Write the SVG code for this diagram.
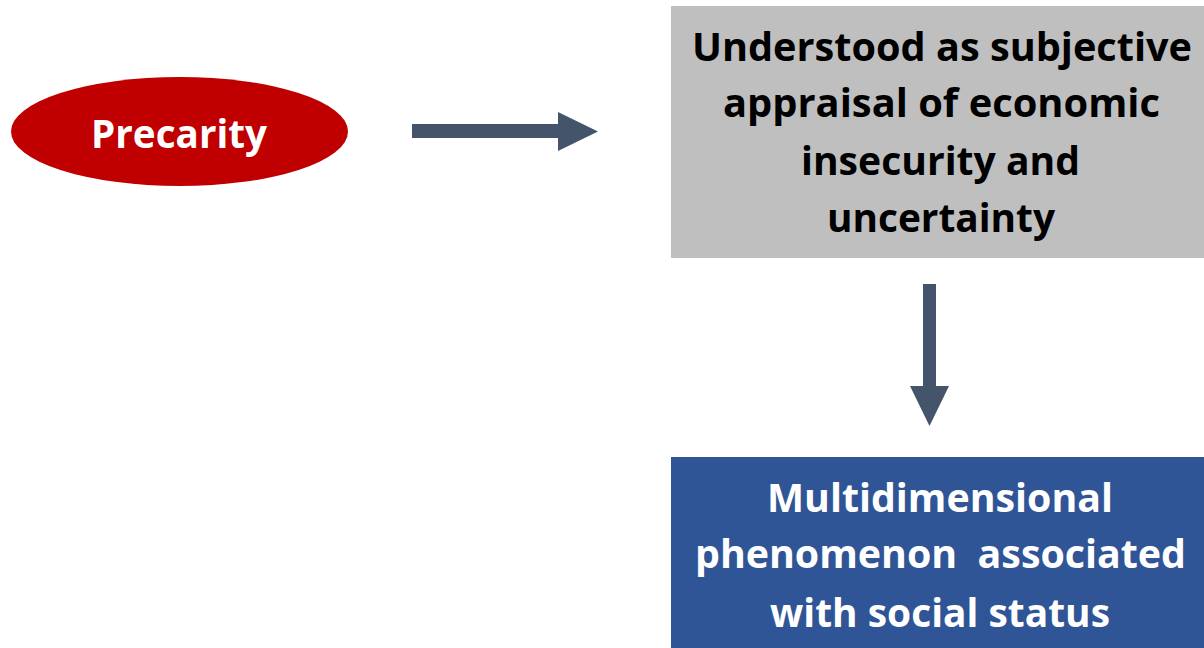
<svg xmlns="http://www.w3.org/2000/svg" width="1204" height="648" viewBox="0 0 1204 648">
<defs>
<style>
.t{font-family:"Open Sans","Liberation Sans",sans-serif;font-weight:bold;font-size:39px;text-anchor:middle}
.w{fill:#FFFFFF}
.k{fill:#000000}
.arrow{fill:#44546A}
</style>
</defs>
<rect x="0" y="0" width="1204" height="648" fill="#FFFFFF"/>
<g id="precarity">
<ellipse cx="179.5" cy="131.5" rx="168.5" ry="54.5" fill="#C00000"/>
<text class="t w" x="179" y="148" textLength="176" lengthAdjust="spacingAndGlyphs">Precarity</text>
</g>
<g id="understood">
<rect x="671" y="6" width="533" height="252" fill="#BFBFBF"/>
<text class="t k" x="942" y="61" textLength="500" lengthAdjust="spacingAndGlyphs">Understood as subjective</text>
<text class="t k" x="941.5" y="117" textLength="437" lengthAdjust="spacingAndGlyphs">appraisal of economic</text>
<text class="t k" x="940.5" y="175" textLength="279" lengthAdjust="spacingAndGlyphs">insecurity and</text>
<text class="t k" x="941" y="232" textLength="228" lengthAdjust="spacingAndGlyphs">uncertainty</text>
</g>
<g id="multidimensional">
<rect x="671" y="457" width="533" height="191" fill="#2F5597"/>
<text class="t w" x="940" y="512" textLength="346" lengthAdjust="spacingAndGlyphs">Multidimensional</text>
<text class="t w" x="940.5" y="568" textLength="491" lengthAdjust="spacingAndGlyphs" xml:space="preserve">phenomenon  associated</text>
<text class="t w" x="940" y="627" textLength="340" lengthAdjust="spacingAndGlyphs">with social status</text>
</g>
<g id="connectors">
<polygon class="arrow" points="412,124 558,124 558,112 598,131.5 558,151 558,138 412,138"/>
<polygon class="arrow" points="923,284 936,284 936,386 949,386 929.5,426 910,386 923,386"/>
</g>
</svg>
